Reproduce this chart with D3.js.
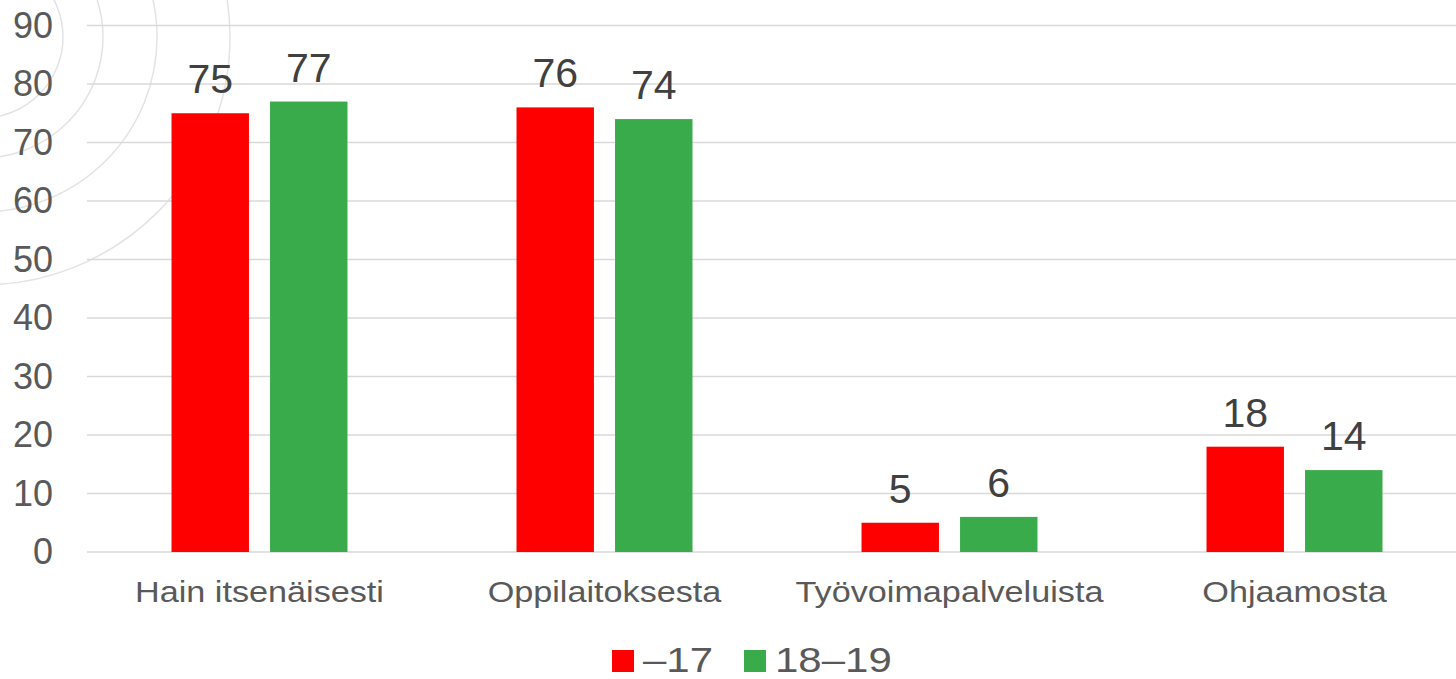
<!DOCTYPE html>
<html>
<head>
<meta charset="utf-8">
<script src="https://cdn.jsdelivr.net/npm/d3@7"></script>
<style>
  body { margin: 0; background: #fff; }
  svg { display: block; font-family: "Liberation Sans", Arial, sans-serif; }
</style>
</head>
<body>
<svg id="chart"></svg>
<script>
var categories = ["Hain itsenäisesti", "Oppilaitoksesta", "Työvoimapalveluista", "Ohjaamosta"];
var seriesNames = ["–17", "18–19"];
var seriesColors = ["#ff0000", "#3aab4a"];
var valuesYoung = [75, 76, 5, 18];
var valuesOld = [77, 74, 6, 14];
var yTicks = [0, 10, 20, 30, 40, 50, 60, 70, 80, 90];
var bgRadii = [81, 121, 175, 248];

var width = 1456, height = 679;
var svg = d3.select("#chart").attr("width", width).attr("height", height);

// decorative rings behind the chart
svg.append("g").selectAll("circle")
    .data(bgRadii)
    .enter().append("circle")
    .attr("cx", -18).attr("cy", 37)
    .attr("r", function(d) { return d; })
    .attr("fill", "none")
    .attr("stroke", "#e3e3e3")
    .attr("stroke-width", 1.5);

var rows = categories.map(function(c, i) {
    return { cat: c, vals: [valuesYoung[i], valuesOld[i]] };
});

var x0 = d3.scaleBand().domain(categories).range([87, 1467])
    .paddingInner(0.49).paddingOuter(0.245);
var x1 = d3.scaleBand().domain(d3.range(seriesNames.length)).range([0, x0.bandwidth()])
    .paddingInner(0.214).paddingOuter(0);
var y = d3.scaleLinear().domain([0, 90]).range([552, 25.5]);

// gridlines
svg.append("g").selectAll("line")
    .data(yTicks)
    .enter().append("line")
    .attr("x1", 87).attr("x2", width)
    .attr("y1", function(d) { return y(d); })
    .attr("y2", function(d) { return y(d); })
    .attr("stroke", "#d9d9d9")
    .attr("stroke-width", 1.5);

// y labels
var yAxis = svg.append("g")
    .attr("transform", "translate(53,0)")
    .call(d3.axisLeft(y).tickValues(yTicks).tickSize(0).tickPadding(0));
yAxis.select(".domain").remove();
yAxis.selectAll("text")
    .attr("font-size", 36)
    .attr("font-family", "Liberation Sans, Arial, sans-serif")
    .attr("fill", "#595959");

// bars
var group = svg.selectAll(".grp")
    .data(rows)
    .enter().append("g")
    .attr("class", "grp")
    .attr("transform", function(d) { return "translate(" + x0(d.cat) + ",0)"; });

group.selectAll("rect")
    .data(function(d) { return d.vals; })
    .enter().append("rect")
    .attr("x", function(d, i) { return x1(i); })
    .attr("y", function(d) { return y(d); })
    .attr("width", x1.bandwidth())
    .attr("height", function(d) { return y(0) - y(d); })
    .attr("fill", function(d, i) { return seriesColors[i]; });

group.selectAll("text")
    .data(function(d) { return d.vals; })
    .enter().append("text")
    .attr("x", function(d, i) { return x1(i) + x1.bandwidth() / 2; })
    .attr("y", function(d) { return y(d) - 20; })
    .attr("text-anchor", "middle")
    .attr("font-size", 41)
    .attr("fill", "#404040")
    .text(function(d) { return d; });

// category labels (wide glyphs in the original, so stretch a bit)
svg.append("g").selectAll("text")
    .data(categories)
    .enter().append("text")
    .attr("transform", function(d) {
        return "translate(" + (x0(d) + x0.bandwidth() / 2) + ",602) scale(1.14,1)";
    })
    .attr("text-anchor", "middle")
    .attr("font-size", 30)
    .attr("fill", "#595959")
    .text(function(d) { return d; });

// legend
var legendX = [612, 744];
var legend = svg.append("g").selectAll("g")
    .data(seriesNames)
    .enter().append("g")
    .attr("transform", function(d, i) { return "translate(" + legendX[i] + ",650)"; });
legend.append("rect")
    .attr("width", 22).attr("height", 22)
    .attr("fill", function(d, i) { return seriesColors[i]; });
legend.append("text")
    .attr("transform", "translate(31,22) scale(1.2,1)")
    .attr("font-size", 35)
    .attr("fill", "#595959")
    .text(function(d) { return d; });
</script>
</body>
</html>
